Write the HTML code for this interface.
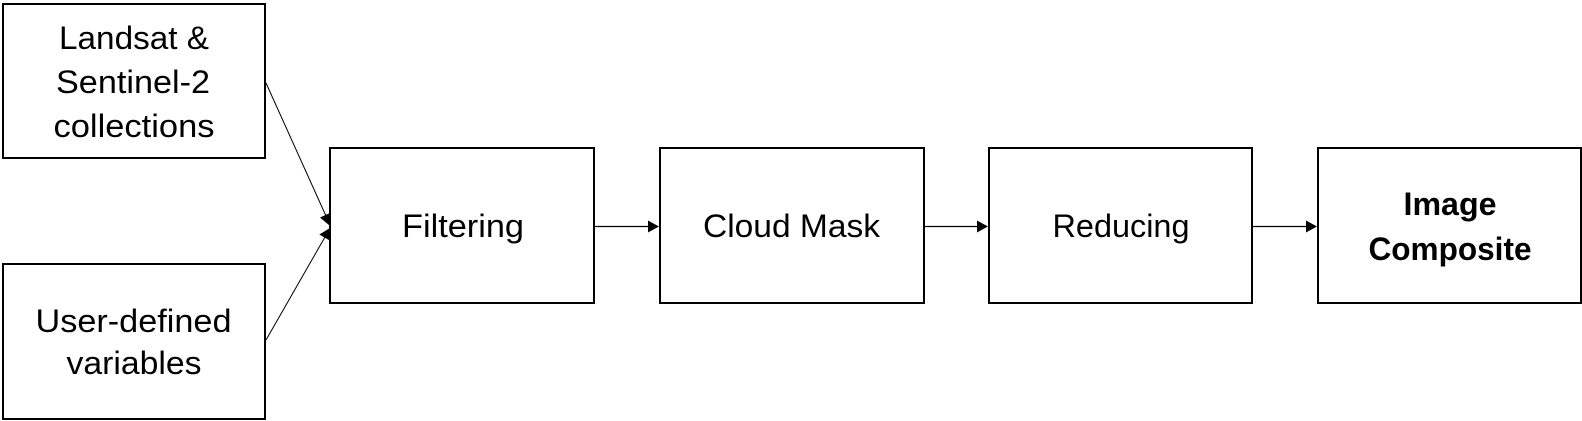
<!DOCTYPE html>
<html>
<head>
<meta charset="utf-8">
<style>
  html, body { margin: 0; padding: 0; background: #fff; }
  svg { display: block; }
  text { font-family: "Liberation Sans", sans-serif; fill: #000; }
</style>
</head>
<body>
<svg width="1582" height="421" viewBox="0 0 1582 421" xmlns="http://www.w3.org/2000/svg">
  <rect x="0" y="0" width="1582" height="421" fill="#fff"/>
  <g fill="none" stroke="#000" stroke-width="2">
    <rect x="3" y="4" width="262" height="154"/>
    <rect x="3" y="264" width="262" height="155"/>
    <rect x="330" y="148" width="264" height="155"/>
    <rect x="660" y="148" width="264" height="155"/>
    <rect x="989" y="148" width="263" height="155"/>
    <rect x="1318" y="148" width="263" height="155"/>
  </g>

  <!-- connectors -->
  <g stroke="#000" fill="none">
    <line x1="266" y1="83" x2="326" y2="216" stroke-width="1"/>
    <line x1="266" y1="340" x2="325" y2="237" stroke-width="1"/>
    <line x1="595" y1="226.5" x2="649" y2="226.5" stroke-width="1.3"/>
    <line x1="925" y1="226.5" x2="978" y2="226.5" stroke-width="1.3"/>
    <line x1="1253" y1="226.5" x2="1307" y2="226.5" stroke-width="1.3"/>
  </g>
  <g fill="#000">
    <polygon points="330,226 320,217.5 331,212.5"/>
    <polygon points="330,228 329.7,240.5 319.3,234.5"/>
    <polygon points="648,220.5 659,226.5 648,232.5"/>
    <polygon points="977,220.5 988,226.5 977,232.5"/>
    <polygon points="1306,220.5 1317,226.5 1306,232.5"/>
  </g>

  <!-- labels -->
  <g font-size="32" text-anchor="middle">
    <text x="134" y="49" textLength="150" lengthAdjust="spacingAndGlyphs">Landsat &amp;</text>
    <text x="133" y="93" textLength="154" lengthAdjust="spacingAndGlyphs">Sentinel-2</text>
    <text x="134" y="137" textLength="161" lengthAdjust="spacingAndGlyphs">collections</text>

    <text x="133.5" y="332" textLength="196" lengthAdjust="spacingAndGlyphs">User-defined</text>
    <text x="134" y="374" textLength="135" lengthAdjust="spacingAndGlyphs">variables</text>

    <text x="463" y="237" textLength="122" lengthAdjust="spacingAndGlyphs">Filtering</text>
    <text x="791.5" y="237" textLength="177" lengthAdjust="spacingAndGlyphs">Cloud Mask</text>
    <text x="1121" y="237" textLength="137" lengthAdjust="spacingAndGlyphs">Reducing</text>

    <text x="1450" y="215" font-weight="bold" textLength="93" lengthAdjust="spacingAndGlyphs">Image</text>
    <text x="1450" y="260" font-weight="bold" textLength="163" lengthAdjust="spacingAndGlyphs">Composite</text>
  </g>
</svg>
</body>
</html>
